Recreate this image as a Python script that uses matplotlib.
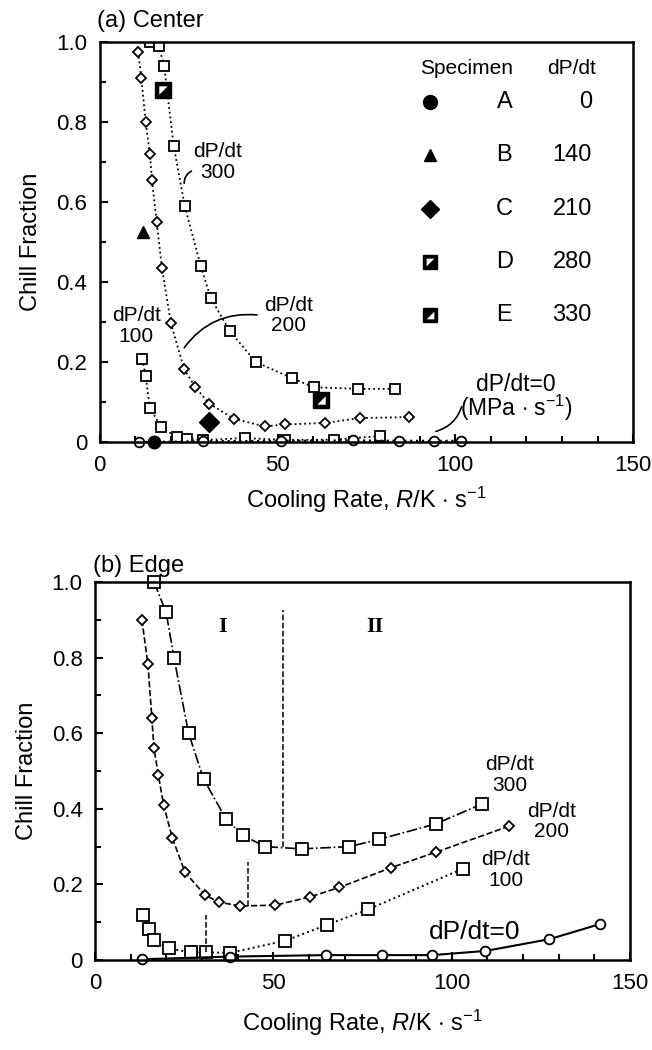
import matplotlib
matplotlib.use('Agg')
import matplotlib.pyplot as plt
from matplotlib.path import Path
from matplotlib.ticker import MultipleLocator, FixedLocator, FixedFormatter

plt.rcParams['font.family'] = ['Liberation Sans', 'DejaVu Sans']
plt.rcParams['mathtext.fontset'] = 'custom'
plt.rcParams['mathtext.rm'] = 'Liberation Sans'
plt.rcParams['mathtext.it'] = 'Liberation Sans:italic'

# ---- (a) Center ----
a300_x = [14.1, 16.6, 18.1, 20.8, 23.9, 28.4, 31.2, 36.6, 43.9, 54.0, 60.2, 72.7, 83.1]
a300_y = [1.0, 0.99, 0.94, 0.74, 0.59, 0.44, 0.36, 0.277, 0.20, 0.16, 0.137, 0.133, 0.133]
a200_x = [10.8, 11.7, 12.9, 14.1, 14.7, 16.0, 17.5, 20.0, 23.7, 26.9, 30.8, 37.8, 46.4, 52.1, 63.3, 73.2, 87.0]
a200_y = [0.975, 0.91, 0.80, 0.72, 0.654, 0.55, 0.435, 0.297, 0.183, 0.137, 0.096, 0.058, 0.039, 0.044, 0.0475, 0.06, 0.0625]
a100_x = [12.0, 12.9, 14.1, 17.2, 21.6, 24.4, 29.1, 40.8, 52.0, 66.0, 78.8]
a100_y = [0.207, 0.165, 0.086, 0.0375, 0.0125, 0.008, 0.005, 0.01, 0.005, 0.006, 0.015]
a0_x = [11.1, 29.1, 51.1, 71.3, 84.2, 94.0, 101.6]
a0_y = [0.0, 0.002, 0.003, 0.004, 0.003, 0.003, 0.003]

spec_names = ['A', 'B', 'C', 'D', 'E']
spec_rates = ['0', '140', '210', '280', '330']
spec_x = [15.2, 12.2, 30.8, 17.8, 62.1]
spec_y = [0.0, 0.525, 0.05, 0.88, 0.104]

# ---- (b) Edge ----
b300_x = [16.5, 19.9, 22.1, 26.2, 30.4, 36.7, 41.4, 47.7, 57.9, 71.3, 79.6, 95.5, 108.6]
b300_y = [1.0, 0.92, 0.80, 0.60, 0.479, 0.373, 0.33, 0.30, 0.294, 0.30, 0.319, 0.36, 0.413]
b200_x = [13.1, 14.8, 15.9, 16.5, 17.7, 19.2, 21.6, 25.2, 30.8, 34.7, 40.7, 50.5, 60.3, 68.5, 82.9, 95.5, 116.1]
b200_y = [0.90, 0.782, 0.64, 0.56, 0.49, 0.41, 0.324, 0.232, 0.172, 0.153, 0.143, 0.145, 0.167, 0.192, 0.244, 0.285, 0.354]
b100_x = [13.5, 15.1, 16.6, 20.6, 26.8, 31.1, 37.8, 53.3, 65.0, 76.6, 103.3]
b100_y = [0.119, 0.082, 0.053, 0.031, 0.02, 0.02, 0.019, 0.051, 0.093, 0.134, 0.242]
b0_x = [13.1, 37.7, 64.8, 80.4, 94.6, 109.5, 127.4, 141.6]
b0_y = [0.002, 0.009, 0.013, 0.013, 0.013, 0.024, 0.055, 0.095]

vlines_x = [52.8, 43.0, 31.1]
vlines_lo = [0.30, 0.143, 0.02]
vlines_hi = [0.926, 0.26, 0.119]

yticks = [0, 0.2, 0.4, 0.6, 0.8, 1.0]
ytick_labels = ['0', '0.2', '0.4', '0.6', '0.8', '1.0']
xticks = [0, 50, 100, 150]

# half-filled square markers (white triangle on black square)
tri_ul = Path([(-1, 1), (1, 1), (-1, -1), (-1, 1)])
tri_lr = Path([(1, -1), (1, 1), (-1, -1), (1, -1)])


def half_square(ax, x, y, tri, size):
    ax.plot(x, y, marker='s', ms=size, mfc='black', mec='black', ls='none', zorder=6, clip_on=False)
    ax.plot(x, y, marker=tri, ms=size * 0.55, mfc='white', mec='none', ls='none', zorder=7, clip_on=False)


def style_axes(ax, xpad):
    ax.set_xlim(0, 150)
    ax.set_ylim(0, 1.0)
    ax.yaxis.set_major_locator(FixedLocator(yticks))
    ax.yaxis.set_major_formatter(FixedFormatter(ytick_labels))
    ax.yaxis.set_minor_locator(MultipleLocator(0.1))
    ax.xaxis.set_major_locator(FixedLocator(xticks))
    ax.xaxis.set_minor_locator(MultipleLocator(10))
    ax.tick_params(which='both', direction='in', labelsize=16, width=1.5, pad=9)
    ax.tick_params(which='major', length=6)
    ax.tick_params(which='minor', length=4)
    for s in ax.spines.values():
        s.set_linewidth(1.8)
    ax.set_ylabel('Chill Fraction', fontsize=17, labelpad=10)
    ax.set_xlabel(r'Cooling Rate, $\it{R}$/K $\cdot$ s$^{-1}$', fontsize=17, labelpad=xpad)


fig = plt.figure(figsize=(6.52, 10.5), dpi=100)
ax1 = fig.add_axes([0.153, 0.579, 0.818, 0.381])
ax2 = fig.add_axes([0.146, 0.0857, 0.820, 0.360])

mk = dict(mfc='white', mec='black', color='black', mew=1.3)

# (a)
ax1.plot(a300_x, a300_y, ls=':', lw=1.3, marker='s', ms=7, **mk)
ax1.plot(a200_x, a200_y, ls=':', lw=1.3, marker='D', ms=5, **mk)
ax1.plot(a100_x, a100_y, ls=':', lw=1.3, marker='s', ms=7, **mk)
ax1.plot(a0_x, a0_y, ls=':', lw=1.6, marker='o', ms=7, clip_on=False, **mk)
ax1.plot(spec_x[0], spec_y[0], marker='o', ms=9, color='black', ls='none', zorder=6, clip_on=False)
ax1.plot(spec_x[1], spec_y[1], marker='^', ms=9, color='black', ls='none', zorder=6)
ax1.plot(spec_x[2], spec_y[2], marker='D', ms=10, color='black', ls='none', zorder=6)
half_square(ax1, spec_x[3], spec_y[3], tri_ul, 11)
half_square(ax1, spec_x[4], spec_y[4], tri_lr, 11)

# legend table
ax1.text(103.2, 0.933, 'Specimen', fontsize=15, ha='center', va='center')
ax1.text(132.7, 0.933, 'dP/dt', fontsize=15, ha='center', va='center')
row_y = [0.85, 0.717, 0.583, 0.45, 0.317]
ax1.plot(92.9, row_y[0], marker='o', ms=10, color='black', ls='none')
ax1.plot(92.9, row_y[1], marker='^', ms=8, color='black', ls='none')
ax1.plot(92.9, row_y[2], marker='D', ms=9, color='black', ls='none')
half_square(ax1, 92.9, row_y[3], tri_ul, 10)
half_square(ax1, 92.9, row_y[4], tri_lr, 10)
for i in range(len(spec_names)):
    ax1.text(113.8, row_y[i], spec_names[i], fontsize=17, ha='center', va='center')
    ax1.text(138.4, row_y[i], spec_rates[i], fontsize=17, ha='right', va='center')

ax1.text(33.2, 0.70, 'dP/dt\n300', fontsize=15, ha='center', va='center', linespacing=1.1)
ax1.annotate('', xy=(23.8, 0.64), xytext=(26.5, 0.68),
             arrowprops=dict(arrowstyle='-', lw=1.2, connectionstyle='arc3,rad=0.4'))
ax1.text(53.2, 0.316, 'dP/dt\n200', fontsize=15, ha='center', va='center', linespacing=1.1)
ax1.annotate('', xy=(23.3, 0.23), xytext=(45.0, 0.317),
             arrowprops=dict(arrowstyle='-', lw=1.2, connectionstyle='arc3,rad=0.3'))
ax1.text(10.3, 0.29, 'dP/dt\n100', fontsize=15, ha='center', va='center', linespacing=1.1)
ax1.text(117.0, 0.11, 'dP/dt=0\n' + r'(MPa $\cdot$ s$^{-1}$)', fontsize=16.5, ha='center', va='center', linespacing=0.9)
ax1.annotate('', xy=(93.8, 0.025), xytext=(102.0, 0.095),
             arrowprops=dict(arrowstyle='-', lw=1.2, connectionstyle='arc3,rad=-0.3'))
style_axes(ax1, 7)
ax1.text(-0.005, 1.025, '(a) Center', transform=ax1.transAxes, fontsize=17, ha='left', va='bottom')

# (b)
ax2.plot(b300_x, b300_y, ls='-.', lw=1.2, marker='s', ms=8, clip_on=False, **mk)
ax2.plot(b200_x, b200_y, ls='--', lw=1.2, marker='D', ms=5, **mk)
ax2.plot(b100_x, b100_y, ls=':', lw=1.4, marker='s', ms=8, **mk)
ax2.plot(b0_x, b0_y, ls='-', lw=1.5, marker='o', ms=7, clip_on=False, **mk)
for i in range(len(vlines_x)):
    ax2.plot([vlines_x[i], vlines_x[i]], [vlines_lo[i], vlines_hi[i]], ls='--', lw=1.1, color='black')

ax2.text(35.8, 0.88, 'I', fontsize=16, family=['Liberation Serif'], fontweight='bold', ha='center', va='center')
ax2.text(78.5, 0.88, 'II', fontsize=16, family=['Liberation Serif'], fontweight='bold', ha='center', va='center')
ax2.text(116.3, 0.49, 'dP/dt\n300', fontsize=15, ha='center', va='center', linespacing=1.1)
ax2.text(128.0, 0.366, 'dP/dt\n200', fontsize=15, ha='center', va='center', linespacing=1.1)
ax2.text(115.2, 0.238, 'dP/dt\n100', fontsize=15, ha='center', va='center', linespacing=1.1)
ax2.text(106.5, 0.075, 'dP/dt=0', fontsize=19, ha='center', va='center')
style_axes(ax2, 10)
ax2.text(-0.005, 1.012, '(b) Edge', transform=ax2.transAxes, fontsize=17, ha='left', va='bottom')

fig.savefig('out.png', dpi=100)
